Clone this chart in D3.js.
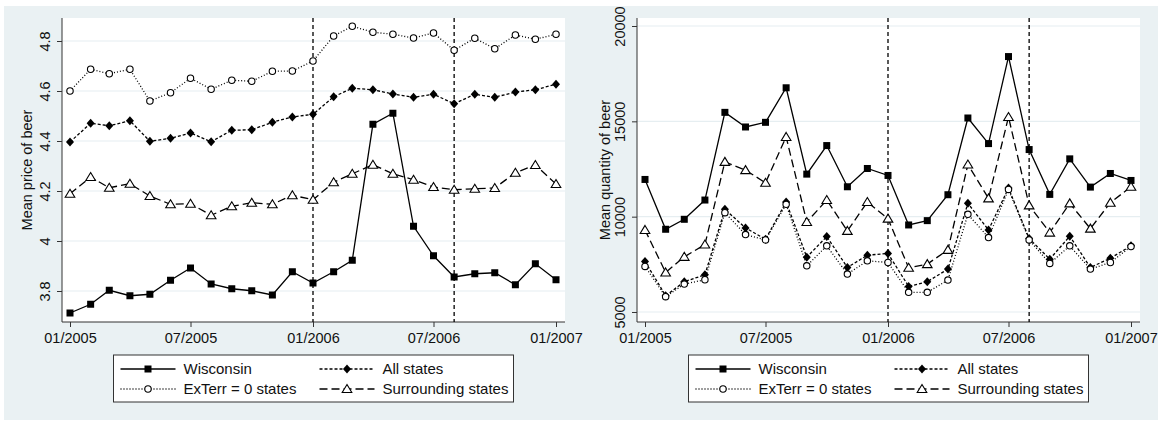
<!DOCTYPE html>
<html>
<head>
<meta charset="utf-8">
<script src="https://cdn.jsdelivr.net/npm/d3@7"></script>
<style>
  body { margin: 0; background: #ffffff; }
  text { font-family: "Liberation Sans", Arial, sans-serif; fill: #111; }
</style>
</head>
<body>
<div id="svgContainer"></div>
<script>
// months shown on both panels (one point each)
var months = ["01/2005","02/2005","03/2005","04/2005","05/2005","06/2005","07/2005","08/2005","09/2005","10/2005","11/2005","12/2005",
  "01/2006","02/2006","03/2006","04/2006","05/2006","06/2006","07/2006","08/2006","09/2006","10/2006","11/2006","12/2006","01/2007"];
var xTickLabels = ["01/2005","07/2005","01/2006","07/2006","01/2007"];
var eventMonths = ["01/2006","08/2006"];

var seriesNames = ["Wisconsin","All states","ExTerr = 0 states","Surrounding states"];

// mean price of beer
var priceWisconsin = [3.712,3.747,3.803,3.781,3.787,3.843,3.892,3.828,3.809,3.801,3.784,3.877,3.832,3.877,3.923,4.467,4.511,4.059,3.941,3.856,3.869,3.873,3.825,3.909,3.845];
var priceAll = [4.396,4.471,4.461,4.481,4.399,4.411,4.432,4.397,4.443,4.445,4.475,4.496,4.507,4.577,4.611,4.605,4.588,4.575,4.587,4.549,4.587,4.575,4.596,4.605,4.627];
var priceExTerr = [4.600,4.687,4.669,4.687,4.560,4.593,4.651,4.607,4.643,4.639,4.679,4.680,4.720,4.820,4.859,4.835,4.827,4.812,4.832,4.763,4.811,4.769,4.824,4.807,4.827];
var priceSurr = [4.189,4.256,4.213,4.229,4.180,4.147,4.149,4.103,4.139,4.153,4.147,4.183,4.165,4.235,4.269,4.305,4.269,4.245,4.216,4.205,4.209,4.212,4.273,4.304,4.228];
var priceTicks = [3.8,4,4.2,4.4,4.6,4.8];

// mean quantity of beer
var qtyWisconsin = [11952,9339,9862,10872,15471,14704,14948,16760,12231,13729,11568,12527,12161,9565,9792,11151,15175,13833,18397,13520,11168,13032,11551,12265,11899];
var qtyAll = [7649,5855,6587,6952,10384,9409,8816,10767,7876,8956,7336,7980,8067,6343,6587,7249,10698,9304,11499,8851,7771,8973,7336,7823,8468];
var qtyExTerr = [7388,5803,6465,6691,10210,9060,8781,10645,7423,8468,6987,7684,7597,6029,6029,6674,10123,8903,11429,8781,7545,8468,7249,7597,8433];
var qtySurr = [9304,7075,7893,8538,12875,12440,11778,14182,9722,10872,9252,10767,9896,7318,7510,8259,12736,10959,15227,10593,9165,10698,9374,10733,11568];
var qtyTicks = [5000,10000,15000,20000];

var parseMonth = d3.timeParse("%m/%Y");
var W = 1162, H = 422;

var svg = d3.select("#svgContainer").append("svg")
  .attr("width", W)
  .attr("height", H);

// graph region background
svg.append("rect")
  .attr("x", 4).attr("y", 6)
  .attr("width", 1154).attr("height", 414)
  .attr("fill", "#eaf1f3");

// line style + marker for each series
var styles = [
  {dash: null, marker: "square"},
  {dash: "3,2", marker: "diamond"},
  {dash: "1,2", marker: "circle"},
  {dash: "8,4", marker: "triangle"}
];

function drawMarker(g, type, x, y) {
  if (type == "square") {
    g.append("rect").attr("x", x - 3.5).attr("y", y - 3.5)
      .attr("width", 7).attr("height", 7).attr("fill", "#000");
  } else if (type == "diamond") {
    g.append("path").attr("d", "M" + x + "," + (y - 4.5) + "L" + (x + 4) + "," + y + "L" + x + "," + (y + 4.5) + "L" + (x - 4) + "," + y + "Z")
      .attr("fill", "#000");
  } else if (type == "circle") {
    g.append("circle").attr("cx", x).attr("cy", y).attr("r", 3.2)
      .attr("fill", "#fff").attr("stroke", "#000").attr("stroke-width", 1.1);
  } else {
    g.append("path").attr("d", "M" + x + "," + (y - 4.5) + "L" + (x + 4.8) + "," + (y + 3.5) + "L" + (x - 4.8) + "," + (y + 3.5) + "Z")
      .attr("fill", "#fff").attr("stroke", "#000").attr("stroke-width", 1.1);
  }
}

function drawPanel(opt) {
  var x = d3.scaleTime()
    .domain([parseMonth(months[0]), parseMonth(months[months.length - 1])])
    .range([opt.left + 8, opt.right - 9]);
  var y = d3.scaleLinear()
    .domain(opt.domain)
    .range([opt.bottom, opt.top]);

  var g = svg.append("g");

  // plot region
  g.append("rect")
    .attr("x", opt.left).attr("y", opt.top)
    .attr("width", opt.right - opt.left).attr("height", opt.bottom - opt.top)
    .attr("fill", "#fff");

  // gridlines
  g.selectAll(".grid").data(opt.ticks).enter().append("line")
    .attr("x1", opt.left).attr("x2", opt.right)
    .attr("y1", function(d){ return y(d); })
    .attr("y2", function(d){ return y(d); })
    .attr("stroke", "#e6eef1").attr("stroke-width", 1.2);

  // y axis
  var yAxis = g.append("g")
    .attr("transform", "translate(" + opt.left + ",0)")
    .call(d3.axisLeft(y).tickValues(opt.ticks).tickSize(5).tickSizeOuter(0).tickFormat(function(d){ return String(d); }));
  yAxis.select(".domain").attr("d", "M0," + opt.top + "V" + opt.bottom).attr("stroke", "#333");
  yAxis.selectAll(".tick line").attr("stroke", "#333");
  yAxis.selectAll(".tick text")
    .attr("transform", "rotate(-90)")
    .attr("x", 0).attr("y", -12).attr("dy", 0)
    .attr("text-anchor", "middle")
    .style("font-size", "14.5px");

  // x axis
  var xAxis = g.append("g")
    .attr("transform", "translate(0," + opt.bottom + ")")
    .call(d3.axisBottom(x).tickValues(xTickLabels.map(parseMonth)).tickSize(5).tickSizeOuter(0)
      .tickFormat(d3.timeFormat("%m/%Y")));
  xAxis.select(".domain").attr("d", "M" + opt.left + ",0H" + opt.right).attr("stroke", "#333");
  xAxis.selectAll(".tick line").attr("stroke", "#333");
  xAxis.selectAll(".tick text").attr("y", 21).attr("dy", 0).style("font-size", "14.5px");

  // y title
  g.append("text")
    .attr("transform", "translate(" + opt.titleX + "," + ((opt.top + opt.bottom) / 2) + ") rotate(-90)")
    .attr("text-anchor", "middle")
    .style("font-size", "14.5px")
    .text(opt.title);

  // event lines
  g.selectAll(".event").data(eventMonths).enter().append("line")
    .attr("x1", function(d){ return x(parseMonth(d)); })
    .attr("x2", function(d){ return x(parseMonth(d)); })
    .attr("y1", opt.top).attr("y2", opt.bottom)
    .attr("stroke", "#000").attr("stroke-width", 1.3)
    .attr("stroke-dasharray", "4,3");

  // series lines and markers
  var line = d3.line()
    .x(function(d, i){ return x(parseMonth(months[i])); })
    .y(function(d){ return y(d); });
  for (var s = 0; s < opt.series.length; s++) {
    g.append("path")
      .attr("d", line(opt.series[s]))
      .attr("fill", "none")
      .attr("stroke", "#000")
      .attr("stroke-width", 1.3)
      .attr("stroke-dasharray", styles[s].dash);
  }
  for (var s = 0; s < opt.series.length; s++) {
    for (var i = 0; i < opt.series[s].length; i++) {
      drawMarker(g, styles[s].marker, x(parseMonth(months[i])), y(opt.series[s][i]));
    }
  }

  // legend
  var lx = (opt.left + opt.right) / 2 - 200;
  var lg = g.append("g").attr("transform", "translate(" + lx + ",355)");
  lg.append("rect").attr("x", 0).attr("y", 0).attr("width", 400).attr("height", 47)
    .attr("fill", "#fff").attr("stroke", "#333").attr("stroke-width", 1);
  var order = [0, 1, 2, 3];
  order.forEach(function(s) {
    var col = s % 2, row = Math.floor(s / 2);
    var ox = col == 0 ? 0 : 199;
    var oy = row == 0 ? 14 : 34;
    lg.append("line")
      .attr("x1", ox + 7).attr("x2", ox + 62)
      .attr("y1", oy).attr("y2", oy)
      .attr("stroke", "#000").attr("stroke-width", 1.3)
      .attr("stroke-dasharray", styles[s].dash);
    drawMarker(lg, styles[s].marker, ox + 34.5, oy);
    lg.append("text")
      .attr("x", ox + 70).attr("y", oy + 5)
      .style("font-size", "15px")
      .text(seriesNames[s]);
  });
}

drawPanel({
  left: 62, right: 565, top: 18, bottom: 322,
  domain: [3.676, 4.892], ticks: priceTicks,
  title: "Mean price of beer", titleX: 32,
  series: [priceWisconsin, priceAll, priceExTerr, priceSurr]
});

drawPanel({
  left: 637, right: 1140, top: 18, bottom: 322,
  domain: [4475, 20420], ticks: qtyTicks,
  title: "Mean quantity of beer", titleX: 610,
  series: [qtyWisconsin, qtyAll, qtyExTerr, qtySurr]
});
</script>
</body>
</html>
